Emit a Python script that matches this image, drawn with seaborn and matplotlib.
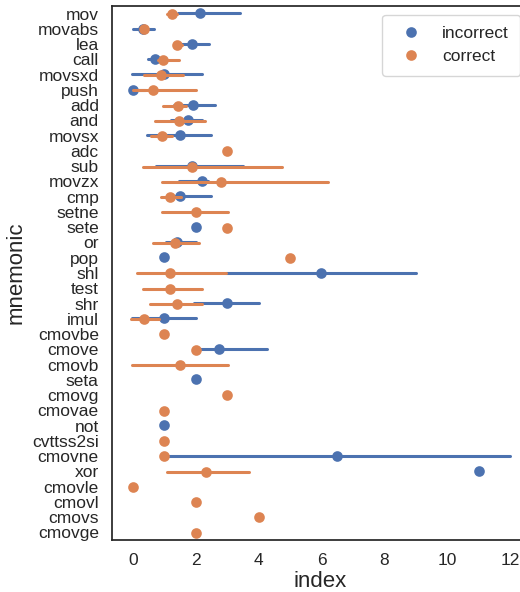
import numpy as np
import pandas as pd
import matplotlib
matplotlib.use("Agg")
import matplotlib.pyplot as plt
import seaborn as sns

nan = np.nan

mnemonics = [
    "mov", "movabs", "lea", "call", "movsxd", "push", "add", "and", "movsx",
    "adc", "sub", "movzx", "cmp", "setne", "sete", "or", "pop", "shl", "test",
    "shr", "imul", "cmovbe", "cmove", "cmovb", "seta", "cmovg", "cmovae", "not",
    "cvttss2si", "cmovne", "xor", "cmovle", "cmovl", "cmovs", "cmovge",
]

# central value and interval ends per mnemonic (nan = no samples)
incorrect_mid = [2.13, 0.33, 1.89, 0.70, 0.98, 0.00, 1.91, 1.75, 1.50,
                 nan, 1.87, 2.19, 1.50, nan, 2.00, 1.42, 1.00, 6.00, nan,
                 3.00, 1.00, nan, 2.74, nan, 2.00, nan, nan, 1.00,
                 nan, 6.50, 11.00, nan, nan, nan, nan]
incorrect_lo = [1.43, 0.02, 1.45, 0.47, -0.04, 0.00, 1.30, 1.20, 0.44,
                nan, 0.73, 1.47, 1.15, nan, nan, 1.07, nan, 2.95, nan,
                1.95, -0.04, nan, 2.00, nan, nan, nan, nan, nan,
                nan, 1.00, nan, nan, nan, nan, nan]
incorrect_hi = [3.40, 0.66, 2.42, 1.05, 2.21, 0.40, 2.61, 2.20, 2.50,
                nan, 3.50, 2.40, 2.50, nan, nan, 2.00, nan, 9.00, nan,
                4.01, 2.00, nan, 4.28, nan, nan, nan, nan, nan,
                nan, 12.00, nan, nan, nan, nan, nan]

correct_mid = [1.26, 0.36, 1.42, 0.97, 0.91, 0.65, 1.45, 1.47, 0.92,
               3.00, 1.87, 2.79, 1.19, 2.00, 3.00, 1.33, 5.00, 1.19, 1.19,
               1.40, 0.36, 1.00, 2.00, 1.50, nan, 3.00, 1.00, nan,
               1.00, 1.00, 2.32, 0.00, 2.00, 4.00, 2.00]
correct_lo = [1.10, nan, 1.30, 0.80, 0.37, 0.00, 0.97, 0.71, 0.59,
              nan, 0.31, 0.92, 0.90, 0.94, nan, 0.63, nan, 0.13, 0.33,
              0.55, -0.06, nan, nan, -0.04, nan, nan, nan, nan,
              nan, nan, 1.10, nan, nan, nan, nan]
correct_hi = [1.42, nan, 1.55, 1.48, 1.58, 2.02, 1.70, 2.30, 1.25,
              nan, 4.73, 6.21, 1.52, 3.03, nan, 2.10, nan, 2.95, 2.21,
              2.21, 0.83, nan, nan, 3.03, nan, nan, nan, nan,
              nan, nan, 3.69, nan, nan, nan, nan]

labels = ["incorrect", "correct"]

rows = []
series = {
    "incorrect": (incorrect_mid, incorrect_lo, incorrect_hi),
    "correct": (correct_mid, correct_lo, correct_hi),
}
for label, (mids, los, his) in series.items():
    for m, mid, lo, hi in zip(mnemonics, mids, los, his):
        if np.isnan(mid):
            continue
        vals = [mid] if np.isnan(lo) else [lo, mid, hi]
        for v in vals:
            rows.append({"mnemonic": m, "label": label, "index": v})
df = pd.DataFrame(rows)

sns.set_theme(style="white")
plt.rcParams["font.family"] = ["Liberation Sans", "DejaVu Sans"]

fig = plt.figure(figsize=(5.2, 5.92), dpi=100)
ax = fig.add_axes([112 / 520, 1 - 540 / 592, 417 / 520, 534 / 592])

sns.pointplot(
    data=df, x="index", y="mnemonic", hue="label",
    order=mnemonics, hue_order=labels,
    estimator="median",
    errorbar=lambda v: (v.min(), v.max()),
    linestyle="none", dodge=True,
    markersize=6, linewidth=2.2,
    ax=ax,
)

ax.set_xlabel("index", fontsize=16, labelpad=2)
ax.set_ylabel("mnemonic", fontsize=16)
ax.tick_params(axis="both", labelsize=12.5)
ax.set_xticks([0, 2, 4, 6, 8, 10, 12])

sns.move_legend(ax, "upper right", title=None, fontsize=12.5,
                labelspacing=0.47, borderpad=0.65, handletextpad=0.8)

fig.savefig("out.png", dpi=100)
